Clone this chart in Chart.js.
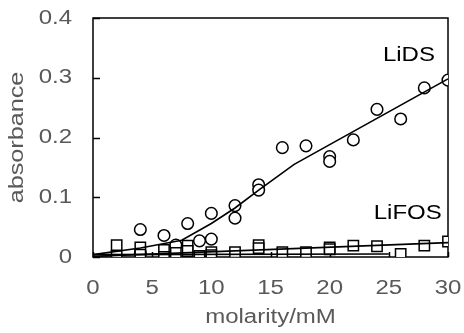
<!DOCTYPE html>
<html>
<head>
<meta charset="utf-8">
<script src="https://cdn.jsdelivr.net/npm/chart.js@4.4.1/dist/chart.umd.min.js"></script>
<style>
html,body{margin:0;padding:0;background:#fff;}
#wrap{width:464px;height:333px;}
</style>
</head>
<body>
<div id="wrap"><canvas id="c" width="464" height="333"></canvas></div>
<script>
// ---- data ----
const lidsX = [4, 4, 6, 7, 8, 9, 10, 10, 12, 12, 14, 14, 16, 18, 20, 20, 22, 24, 26, 28, 30];
const lidsY = [0.046, 0.006, 0.036, 0.020, 0.056, 0.027, 0.073, 0.030, 0.086, 0.065, 0.121, 0.112, 0.183, 0.186, 0.168, 0.160, 0.196, 0.247, 0.231, 0.283, 0.296];

const lifosX = [2, 2, 4, 4, 6, 6, 7, 8, 8, 9, 10, 10, 12, 14, 14, 16, 18, 20, 20, 22, 24, 26, 28, 30];
const lifosY = [0.020, 0.002, 0.016, 0.004, 0.012, 0.000, 0.007, 0.019, 0.010, 0.002, 0.008, 0.003, 0.008, 0.020, 0.015, 0.008, 0.008, 0.016, 0.013, 0.019, 0.018, 0.005, 0.019, 0.026];

// fitted curves
const lidsFitX = [0, 4, 7.5, 10, 12, 14, 17, 30];
const lidsFitY = [0.004, 0.015, 0.028, 0.056, 0.082, 0.112, 0.155, 0.298];
const lifosFitX = [0, 30];
const lifosFitY = [0.001, 0.024];
const lifosLowFitX = [0, 25];
const lifosLowFitY = [0.004, 0.005];

const xTicks = [0, 5, 10, 15, 20, 25, 30];
const yTicks = [0, 0.1, 0.2, 0.3, 0.4];
const xTitle = 'molarity/mM';
const yTitle = 'absorbance';
const seriesLabels = [{text: 'LiDS', x: 26.7, y: 0.337}, {text: 'LiFOS', x: 26.6, y: 0.072}];

const pts = (xs, ys) => xs.map((x, i) => ({x: x, y: ys[i]}));

const SX = 1.2; // horizontal text stretch seen in the reference
const FONT = "'Liberation Sans', Arial, sans-serif";
const FS = 20;

const stretchPlugin = {
  id: 'stretch',
  beforeDraw(chart) {
    const ctx = chart.ctx;
    if (!ctx._stretched) {
      const orig = ctx.fillText.bind(ctx);
      ctx.fillText = function (t, x, y) {
        this.save();
        this.translate(x, y);
        this.scale(SX, 1);
        orig(t, 0, 0);
        this.restore();
      };
      ctx._stretched = true;
    }
  }
};

const framePlugin = {
  id: 'frame',
  beforeDatasetsDraw(chart) {
    const {ctx, chartArea: a, scales: {x, y}} = chart;
    ctx.save();
    ctx.strokeStyle = '#000';
    ctx.lineWidth = 1.5;
    ctx.strokeRect(a.left, a.top, a.right - a.left, a.bottom - a.top);
    ctx.beginPath();
    yTicks.forEach(v => {
      const py = Math.round(y.getPixelForValue(v)) + 0.5;
      ctx.moveTo(a.left, py); ctx.lineTo(a.left + 7, py);
    });
    xTicks.forEach(v => {
      const px = Math.round(x.getPixelForValue(v)) + 0.5;
      ctx.moveTo(px, a.bottom); ctx.lineTo(px, a.bottom - 5);
    });
    ctx.stroke();
    ctx.restore();
  },
  afterDatasetsDraw(chart) {
    const {ctx, scales: {x, y}} = chart;
    ctx.save();
    ctx.fillStyle = '#000';
    ctx.font = FS + 'px ' + FONT;
    ctx.textAlign = 'center';
    ctx.textBaseline = 'middle';
    seriesLabels.forEach(l => ctx.fillText(l.text, x.getPixelForValue(l.x), y.getPixelForValue(l.y)));
    ctx.restore();
  }
};

const zeroPad = s => { s.paddingTop = 0; s.paddingBottom = 0; s.paddingLeft = 0; s.paddingRight = 0; };

const lineDs = (data) => ({
  data: data, showLine: true, pointRadius: 0, borderColor: '#000', borderWidth: 1.6,
  backgroundColor: 'transparent', tension: 0, fill: false
});

new Chart(document.getElementById('c'), {
  type: 'scatter',
  data: {
    datasets: [
      lineDs(pts(lidsFitX, lidsFitY)),
      lineDs(pts(lifosFitX, lifosFitY)),
      lineDs(pts(lifosLowFitX, lifosLowFitY)),
      {
        label: 'LiFOS', data: pts(lifosX, lifosY), pointStyle: 'rect', pointRadius: 7.3,
        pointBackgroundColor: '#fff', pointBorderColor: '#000', pointBorderWidth: 1.5, showLine: false
      },
      {
        label: 'LiDS', data: pts(lidsX, lidsY), pointStyle: 'circle', pointRadius: 5.8,
        pointBackgroundColor: '#fff', pointBorderColor: '#000', pointBorderWidth: 1.5, showLine: false
      }
    ]
  },
  options: {
    responsive: false,
    animation: false,
    events: [],
    layout: {padding: {top: 18, right: 16, left: 0, bottom: 0}},
    plugins: {legend: {display: false}, tooltip: {enabled: false}},
    scales: {
      x: {
        type: 'linear', min: 0, max: 30,
        afterBuildTicks: s => { s.ticks = xTicks.map(v => ({value: v})); },
        afterFit: s => { s.height = 76; zeroPad(s); },
        grid: {display: false, drawTicks: false},
        border: {display: false},
        ticks: {color: '#595959', font: {family: FONT, size: FS}, padding: 19, maxRotation: 0},
        title: {display: true, text: xTitle, color: '#595959', font: {family: FONT, size: FS}, padding: {top: 0, bottom: 4}}
      },
      y: {
        type: 'linear', min: 0, max: 0.4,
        afterBuildTicks: s => { s.ticks = yTicks.map(v => ({value: v})); },
        afterFit: s => { s.width = 93; zeroPad(s); },
        grid: {display: false, drawTicks: false},
        border: {display: false},
        ticks: {color: '#595959', font: {family: FONT, size: FS}, padding: 21,
          callback: v => (v === 0 ? '0' : v.toFixed(1))},
        title: {display: true, text: yTitle, color: '#595959', font: {family: FONT, size: 21}, padding: {top: 5, bottom: 0}}
      }
    }
  },
  plugins: [stretchPlugin, framePlugin]
});
</script>
</body>
</html>
